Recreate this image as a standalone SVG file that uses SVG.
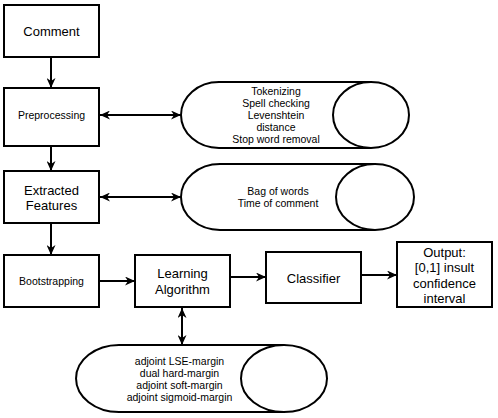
<svg xmlns="http://www.w3.org/2000/svg" width="498" height="418" viewBox="0 0 498 418">
<style>
.box{fill:#fff;stroke:#000;stroke-width:2}
.cyl{fill:#fff;stroke:#000;stroke-width:2}
.t{font-family:"Liberation Sans",Arial,sans-serif;fill:#000;text-anchor:middle;dominant-baseline:central}
.l{font-size:13px}
.s{font-size:10.5px}
.c{stroke:#000;stroke-width:2;fill:none}
</style>
<defs>
<marker id="ah" viewBox="0 0 10 10" refX="10" refY="5" markerWidth="10" markerHeight="9" markerUnits="userSpaceOnUse" orient="auto-start-reverse" preserveAspectRatio="none">
<path d="M0,0 L10,5 L0,10 L3,5 z" fill="#000"/>
</marker>
</defs>
<rect width="498" height="418" fill="#fff"/>
<g id="connectors">
<line class="c" x1="51" y1="57" x2="51" y2="88" marker-end="url(#ah)"/>
<line class="c" x1="51" y1="146" x2="51" y2="171" marker-end="url(#ah)"/>
<line class="c" x1="51" y1="223" x2="51" y2="255" marker-end="url(#ah)"/>
<line class="c" x1="100" y1="115" x2="181" y2="115" marker-start="url(#ah)" marker-end="url(#ah)"/>
<line class="c" x1="100" y1="197" x2="181" y2="197" marker-start="url(#ah)" marker-end="url(#ah)"/>
<line class="c" x1="99" y1="281" x2="135" y2="281" marker-end="url(#ah)"/>
<line class="c" x1="230" y1="277" x2="266" y2="277" marker-end="url(#ah)"/>
<line class="c" x1="361" y1="275" x2="397" y2="275" marker-end="url(#ah)"/>
<line class="c" x1="182" y1="308" x2="182" y2="345" marker-start="url(#ah)" marker-end="url(#ah)"/>
</g>
<g id="comment">
<rect class="box" x="4" y="5" width="95" height="52"/>
<text class="t l" x="51.5" y="31">Comment</text>
</g>
<g id="preprocessing">
<rect class="box" x="4" y="88" width="95" height="58"/>
<text class="t s" x="51.5" y="115">Preprocessing</text>
</g>
<g id="extracted">
<rect class="box" x="4" y="171" width="95" height="52"/>
<text class="t l" x="51.5" y="190">Extracted</text>
<text class="t l" x="51.5" y="205">Features</text>
</g>
<g id="bootstrapping">
<rect class="box" x="4" y="255" width="95" height="52"/>
<text class="t s" x="51.5" y="281">Bootstrapping</text>
</g>
<g id="learning">
<rect class="box" x="135" y="255" width="95" height="52"/>
<text class="t l" x="182.5" y="273">Learning</text>
<text class="t l" x="182.5" y="289">Algorithm</text>
</g>
<g id="classifier">
<rect class="box" x="266" y="252" width="95" height="51"/>
<text class="t l" x="313.5" y="278">Classifier</text>
</g>
<g id="output">
<rect class="box" x="397" y="242" width="95" height="65"/>
<text class="t l" x="444.5" y="252">Output:</text>
<text class="t l" x="444.5" y="267">[0,1] insult</text>
<text class="t l" x="444.5" y="283">confidence</text>
<text class="t l" x="444.5" y="298">interval</text>
</g>
<g id="preproc-steps">
<path class="cyl" d="M371,82 L219,82 A38,33 0 0 0 219,148 L371,148"/>
<ellipse class="cyl" cx="371" cy="115" rx="38" ry="33"/>
<text class="t s" x="276" y="91">Tokenizing</text>
<text class="t s" x="276" y="103">Spell checking</text>
<text class="t s" x="276" y="115">Levenshtein</text>
<text class="t s" x="276" y="127">distance</text>
<text class="t s" x="276" y="139">Stop word removal</text>
</g>
<g id="features-list">
<path class="cyl" d="M375,164 L220,164 A39,33 0 0 0 220,230 L375,230"/>
<ellipse class="cyl" cx="375" cy="197" rx="39" ry="33"/>
<text class="t s" x="278" y="191">Bag of words</text>
<text class="t s" x="278" y="203">Time of comment</text>
</g>
<g id="algorithms">
<path class="cyl" d="M284,345 L119,345 A43,33.5 0 0 0 119,412 L284,412"/>
<ellipse class="cyl" cx="284" cy="378.5" rx="43" ry="33.5"/>
<text class="t s" x="179.5" y="361">adjoint LSE-margin</text>
<text class="t s" x="179.5" y="373">dual hard-margin</text>
<text class="t s" x="179.5" y="385">adjoint soft-margin</text>
<text class="t s" x="179.5" y="397">adjoint sigmoid-margin</text>
</g>
</svg>
